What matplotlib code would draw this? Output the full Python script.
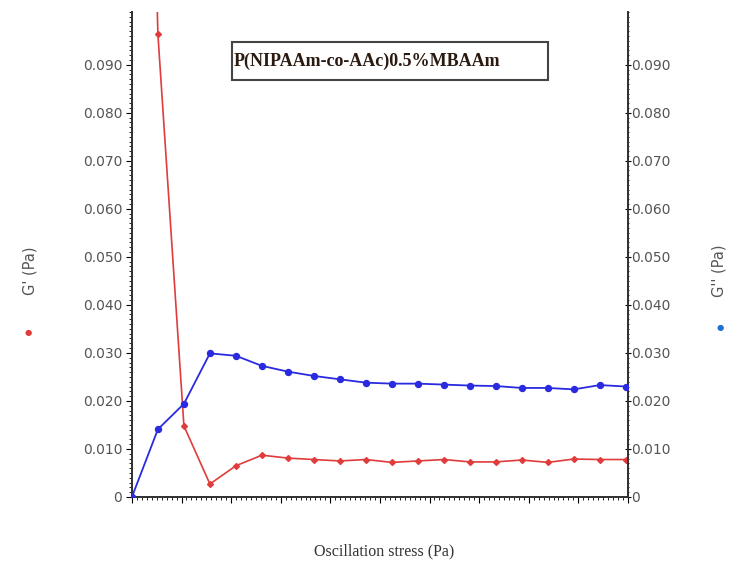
import numpy as np
import matplotlib.pyplot as plt
from matplotlib.ticker import AutoMinorLocator, FixedLocator, FuncFormatter
from matplotlib.patches import Rectangle

# data
stress = [0, 1, 2, 3, 4, 5, 6, 7, 8, 9, 10, 11, 12, 13, 14, 15, 16, 17, 18, 19]
g_storage = [0.30, 0.0963, 0.0148, 0.0027, 0.0065, 0.0087, 0.0081, 0.0078, 0.0075,
             0.0078, 0.0072, 0.0075, 0.0078, 0.0073, 0.0073, 0.0077, 0.0072, 0.0079,
             0.0078, 0.0078]
g_loss = [0.0, 0.0141, 0.0194, 0.0299, 0.0294, 0.0273, 0.0261, 0.0252, 0.0245,
          0.0238, 0.0236, 0.0236, 0.0234, 0.0232, 0.0231, 0.0227, 0.0227, 0.0224,
          0.0233, 0.0230]
y_ticks = [0, 0.01, 0.02, 0.03, 0.04, 0.05, 0.06, 0.07, 0.08, 0.09]
title = "P(NIPAAm-co-AAc)0.5%MBAAm"

red = "#e03c3c"
blue = "#2a2ae0"
gray = "#555555"

fig = plt.figure(figsize=(7.37, 5.67), dpi=100)
ax = fig.add_axes([0.179, 0.1235, 0.673, 0.8555])
ax2 = ax.twinx()

ax.plot(stress, g_storage, color=red, lw=1.2, marker="D", ms=3, zorder=3)
ax2.plot(stress, g_loss, color=blue, lw=1.3, marker="o", ms=4.3, zorder=3)

ymax = 0.101
xmax = 19.08
for a in (ax, ax2):
    a.set_ylim(0, ymax)
    a.set_xlim(0, xmax)
    a.yaxis.set_major_locator(FixedLocator(y_ticks))
    a.yaxis.set_minor_locator(AutoMinorLocator(10))
    a.yaxis.set_major_formatter(FuncFormatter(lambda v, p: "0" if v == 0 else "%.3f" % v))
    a.spines["top"].set_visible(False)
    for s in a.spines.values():
        s.set_linewidth(1.3)
        s.set_color("#333333")

ax.xaxis.set_major_locator(FixedLocator(np.linspace(0, xmax, 11)))
ax.xaxis.set_minor_locator(AutoMinorLocator(10))
ax.tick_params(axis="x", which="major", direction="out", length=4, labelbottom=False)
ax.tick_params(axis="x", which="minor", direction="out", length=2)
ax.tick_params(axis="y", which="major", direction="out", length=4, labelsize=10,
               labelcolor=gray, pad=3)
ax.tick_params(axis="y", which="minor", direction="out", length=2)
ax2.tick_params(axis="y", which="major", direction="inout", length=4, labelsize=10,
                labelcolor=gray, pad=0)
ax2.tick_params(axis="y", which="minor", direction="inout", length=2)

# axis titles with coloured dots
fig.text(0.041, 0.522, "G' (Pa)", rotation=90, ha="center", va="center",
         fontsize=10.5, color=gray)
fig.text(0.038, 0.413, "\u25CF", ha="center", va="center", fontsize=6, color=red)
fig.text(0.975, 0.522, "G'' (Pa)", rotation=90, ha="center", va="center",
         fontsize=10.5, color=gray)
fig.text(0.977, 0.423, "\u25CF", ha="center", va="center", fontsize=6, color="#1f6fd0")

fig.text(0.521, 0.028, "Oscillation stress (Pa)", ha="center", va="center",
         fontsize=11.5, family="Liberation Serif", color="#333333")

# title box
fig.patches.append(Rectangle((0.315, 0.859), 0.429, 0.067, transform=fig.transFigure,
                             facecolor="white", edgecolor="#444444", lw=1.5, zorder=5))
fig.text(0.317, 0.892, title, ha="left", va="center", fontsize=13,
         family="Liberation Serif", fontweight="bold", color="#2a1a10", zorder=6)

fig.savefig("out.png", dpi=100)
